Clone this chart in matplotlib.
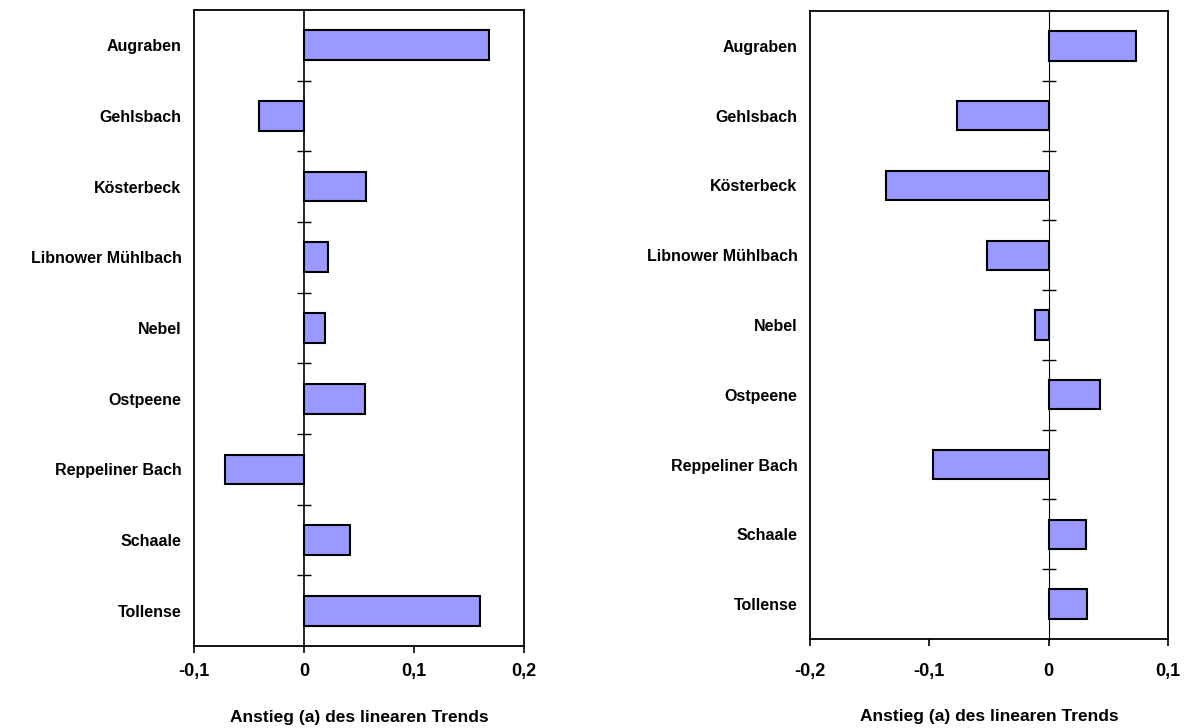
import numpy as np
import matplotlib.pyplot as plt

plt.rcParams['font.family'] = ['Liberation Sans', 'DejaVu Sans']
plt.rcParams['font.weight'] = 'bold'

gewaesser = ['Augraben', 'Gehlsbach', 'Kösterbeck', 'Libnower Mühlbach', 'Nebel',
             'Ostpeene', 'Reppeliner Bach', 'Schaale', 'Tollense']
trend_links = [0.168, -0.041, 0.056, 0.022, 0.019, 0.055, -0.072, 0.0415, 0.160]
trend_rechts = [0.073, -0.077, -0.136, -0.052, -0.0115, 0.043, -0.097, 0.0315, 0.032]

xticks_links = [-0.1, 0, 0.1, 0.2]
xticks_rechts = [-0.2, -0.1, 0, 0.1]
xlabel = 'Anstieg (a) des linearen Trends'


def fmt(v):
    return '0' if v == 0 else ('%.1f' % v).replace('.', ',')


def panel(ax, werte, ticks, tickpad, label_y):
    y = np.arange(len(gewaesser))
    ax.barh(y, werte, height=0.42, color='#9999ff', edgecolor='black', linewidth=1.5, zorder=3)
    ax.set_xlim(ticks[0], ticks[-1])
    ax.set_ylim(len(gewaesser) - 0.5, -0.5)
    ax.set_xticks(ticks)
    ax.set_xticklabels([fmt(t) for t in ticks], fontsize=13, fontweight='bold')
    ax.tick_params(axis='x', direction='out', length=5, width=1.2, pad=tickpad)
    ax.set_yticks(y)
    ax.set_yticklabels(gewaesser, fontsize=11.5, fontweight='bold')
    ax.tick_params(axis='y', length=0, pad=9)
    ax.set_xlabel(xlabel, fontsize=12.5, fontweight='bold', va='center')
    ax.xaxis.set_label_coords(0.5, label_y)
    for s in ax.spines.values():
        s.set_linewidth(1.3)
    # category axis sitting at x = 0 with ticks between the bars
    pos0 = (0 - ticks[0]) / (ticks[-1] - ticks[0])
    sec = ax.secondary_yaxis(pos0)
    sec.spines['left'].set_linewidth(1.2)
    sec.set_yticks(y[:-1] + 0.5)
    sec.set_yticklabels([])
    sec.tick_params(direction='inout', length=10, width=1.0)


fig = plt.figure(figsize=(11.88, 7.28), dpi=100)
ax1 = fig.add_axes([0.1633, 0.1126, 0.2778, 0.8737])
ax2 = fig.add_axes([0.6818, 0.1223, 0.3013, 0.8626])
panel(ax1, trend_links, xticks_links, 7, -0.1116)
panel(ax2, trend_rechts, xticks_rechts, 12, -0.124)

fig.savefig('out.png', dpi=100)
